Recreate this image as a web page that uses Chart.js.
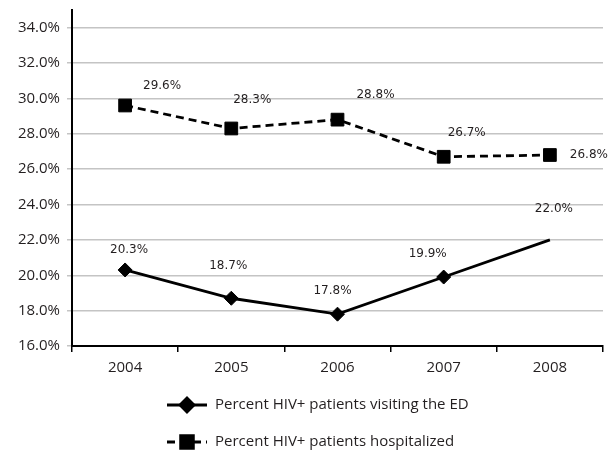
<!DOCTYPE html>
<html>
<head>
<meta charset="utf-8">
<script src="https://cdn.jsdelivr.net/npm/chart.js@4.4.0/dist/chart.umd.min.js"></script>
<style>
  html, body { margin: 0; padding: 0; background: #fff; overflow: hidden; }
  #wrap { position: relative; width: 613px; height: 472px; }
  #hivChart { display: block; }
</style>
</head>
<body>
<div id="wrap"><canvas id="hivChart"></canvas></div>
<script>
"use strict";

const YEARS        = ["2004", "2005", "2006", "2007", "2008"];
const ED_VISITS    = [20.3, 18.7, 17.8, 19.9, 22.0];
const HOSPITALIZED = [29.6, 28.3, 28.8, 26.7, 26.8];
const SERIES_NAMES = ["Percent HIV+ patients visiting the ED", "Percent HIV+ patients hospitalized"];
const Y_MIN  = 16;
const Y_TOP  = 34;   // last labelled tick
const Y_STEP = 2;

// label placement relative to each point, in px
const ED_LABEL_OFFSETS   = [[4, -20], [-3, -32], [-5, -23], [-16, -23], [4, -31]];
const HOSP_LABEL_OFFSETS = [[37, -20], [21, -29], [38, -25], [23, -24], [39, 0]];

const INK = "#231f20";
const TICK_FONT  = { family: "'Open Sans', sans-serif", size: 15 };
const LABEL_FONT = "12px 'DejaVu Sans', sans-serif";
const LEGEND_FONT = "15px 'Open Sans', sans-serif";

// keep the plot area fixed, whatever the tick labels would ask for
function noScalePadding(scale) {
  scale.paddingLeft = 0;
  scale.paddingRight = 0;
  scale.paddingTop = 0;
  scale.paddingBottom = 0;
}

const valueLabels = {
  id: "valueLabels",
  afterDatasetsDraw(chart) {
    const ctx = chart.ctx;
    ctx.save();
    ctx.font = LABEL_FONT;
    ctx.fillStyle = INK;
    ctx.textAlign = "center";
    ctx.textBaseline = "middle";
    chart.data.datasets.forEach((ds, di) => {
      const meta = chart.getDatasetMeta(di);
      meta.data.forEach((pt, i) => {
        const [dx, dy] = ds.labelOffsets[i];
        ctx.fillText(ds.data[i].toFixed(1) + "%", pt.x + dx, pt.y + dy);
      });
    });
    ctx.restore();
  },
};

const lineLegend = {
  id: "lineLegend",
  afterDraw(chart) {
    const ctx = chart.ctx;
    const left = 167, sample = 40, top = chart.chartArea.bottom + 59, row = 37;
    ctx.save();
    chart.data.datasets.forEach((ds, i) => {
      const y = top + i * row;
      ctx.strokeStyle = ds.borderColor;
      ctx.lineWidth = ds.borderWidth;
      ctx.setLineDash(ds.borderDash || []);
      ctx.beginPath();
      ctx.moveTo(left, y);
      ctx.lineTo(left + sample, y);
      ctx.stroke();
      ctx.setLineDash([]);
      ctx.fillStyle = ds.pointBackgroundColor;
      ctx.strokeStyle = ds.pointBorderColor;
      Chart.helpers.drawPoint(ctx, {
        pointStyle: ds.pointStyle,
        radius: ds.legendRadius,
        rotation: 0,
        borderWidth: 1,
      }, left + sample / 2, y);
      ctx.fillStyle = INK;
      ctx.font = LEGEND_FONT;
      ctx.textAlign = "left";
      ctx.textBaseline = "middle";
      ctx.fillText(ds.label, left + sample + 8, y);
    });
    ctx.restore();
  },
};

new Chart(document.getElementById("hivChart"), {
  type: "line",
  data: {
    labels: YEARS,
    datasets: [
      {
        label: SERIES_NAMES[0],
        data: ED_VISITS,
        labelOffsets: ED_LABEL_OFFSETS,
        borderColor: "#000",
        borderWidth: 2.8,
        pointStyle: "rectRot",
        pointRadius: [7, 7, 7, 7, 0],
        legendRadius: 7,
        pointBackgroundColor: "#000",
        pointBorderColor: "#000",
        pointBorderWidth: 1,
        tension: 0,
      },
      {
        label: SERIES_NAMES[1],
        data: HOSPITALIZED,
        labelOffsets: HOSP_LABEL_OFFSETS,
        borderColor: "#000",
        borderWidth: 2.8,
        borderDash: [8, 5],
        pointStyle: "rect",
        pointRadius: 9,
        legendRadius: 9,
        pointBackgroundColor: "#000",
        pointBorderColor: "#000",
        pointBorderWidth: 1,
        tension: 0,
      },
    ],
  },
  options: {
    responsive: true,
    maintainAspectRatio: false,
    animation: false,
    layout: { padding: { top: 10, right: 6, bottom: 90, left: 0 } },
    plugins: {
      legend: { display: false },
      tooltip: { enabled: false },
    },
    scales: {
      x: {
        offset: true,
        afterFit: (scale) => {
          scale.height = 36;
          noScalePadding(scale);
        },
        grid: {
          offset: true,
          drawOnChartArea: false,
          color: "#000",
          lineWidth: 1.5,
          tickLength: 6,
        },
        border: { color: "#000", width: 2 },
        ticks: { color: INK, font: TICK_FONT, padding: 7 },
      },
      y: {
        min: Y_MIN,
        max: Y_TOP + 1,
        afterFit: (scale) => {
          scale.width = 72;
          noScalePadding(scale);
        },
        afterBuildTicks: (scale) => {
          scale.ticks = scale.ticks.filter((t) => t.value <= Y_TOP);
        },
        grid: {
          color: "#c4c4c4",
          lineWidth: 1.5,
          tickLength: 5,
        },
        border: { color: "#000", width: 2 },
        ticks: {
          stepSize: Y_STEP,
          color: INK,
          font: TICK_FONT,
          padding: 7,
          callback: (v) => v.toFixed(1) + "%",
        },
      },
    },
  },
  plugins: [valueLabels, lineLegend],
});
</script>
</body>
</html>
